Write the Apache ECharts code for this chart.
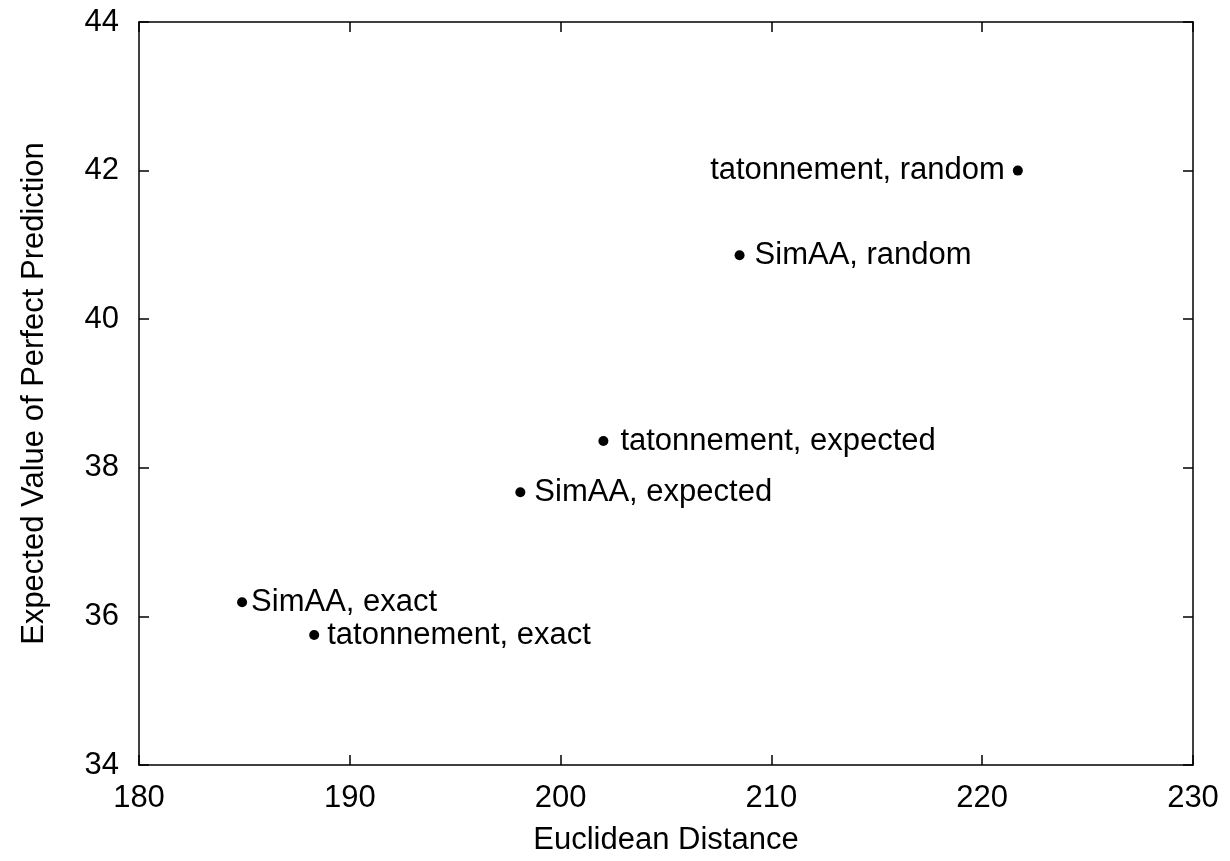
<!DOCTYPE html>
<html>
<head>
<meta charset="utf-8">
<script src="https://cdn.jsdelivr.net/npm/echarts@6/dist/echarts.min.js"></script>
<style>html,body{margin:0;padding:0;background:#fff;}#c{width:1230px;height:861px;}</style>
</head>
<body>
<div id="c"></div>
<script>
const labels = ['tatonnement, random','SimAA, random','tatonnement, expected','SimAA, expected','SimAA, exact','tatonnement, exact'];
const xValues = [221.69, 208.49, 202.03, 198.09, 184.89, 188.31];
const yValues = [42.0, 40.86, 38.36, 37.67, 36.19, 35.75];
const xTicks = [180, 190, 200, 210, 220, 230];
const yTicks = [34, 36, 38, 40, 42, 44];

const labelPos = ['left','right','right','right','right','right'];
const labelDist = [8, 10, 12, 9, 4, 8];

const font = 'Liberation Sans, Arial, sans-serif';
const FS = 31;
const data = labels.map((n, i) => ({
  name: n,
  value: [xValues[i], yValues[i]],
  label: { show: true, position: labelPos[i], distance: labelDist[i], formatter: n, color: '#000', fontSize: FS, fontFamily: font }
}));

const axisLine = { show: true, lineStyle: { color: '#000', width: 1.5 } };
const tick = { show: true, inside: true, length: 10, lineStyle: { color: '#000', width: 1.5 } };

const chart = echarts.init(document.getElementById('c'));
chart.setOption({
  animation: false,
  backgroundColor: '#fff',
  textStyle: { fontFamily: font },
  grid: { left: 139, right: 37, top: 22, bottom: 96, show: false },
  xAxis: [{
    type: 'value', min: xTicks[0], max: xTicks[xTicks.length-1], interval: 10,
    name: 'Euclidean Distance', nameLocation: 'middle', nameGap: 60,
    nameTextStyle: { fontSize: FS, color: '#000', fontFamily: font },
    axisLine, axisTick: tick, splitLine: { show: false },
    axisLabel: { fontSize: FS, color: '#000', margin: 18, fontFamily: font }
  }, {
    type: 'value', position: 'top', min: xTicks[0], max: xTicks[xTicks.length-1], interval: 10,
    axisLine, axisTick: tick, splitLine: { show: false }, axisLabel: { show: false }
  }],
  yAxis: [{
    type: 'value', min: yTicks[0], max: yTicks[yTicks.length-1], interval: 2,
    name: 'Expected Value of Perfect Prediction', nameLocation: 'middle', nameGap: 89,
    nameTextStyle: { fontSize: FS, color: '#000', fontFamily: font },
    axisLine, axisTick: tick, splitLine: { show: false },
    axisLabel: { fontSize: FS, color: '#000', margin: 20, fontFamily: font }
  }, {
    type: 'value', position: 'right', min: yTicks[0], max: yTicks[yTicks.length-1], interval: 2,
    axisLine, axisTick: tick, splitLine: { show: false }, axisLabel: { show: false }
  }],
  series: [{
    type: 'scatter',
    symbol: 'circle', symbolSize: 10,
    itemStyle: { color: '#000', opacity: 1 },
    label: { show: true, fontSize: FS, color: '#000', fontFamily: font },
    data
  }]
});
</script>
</body>
</html>
